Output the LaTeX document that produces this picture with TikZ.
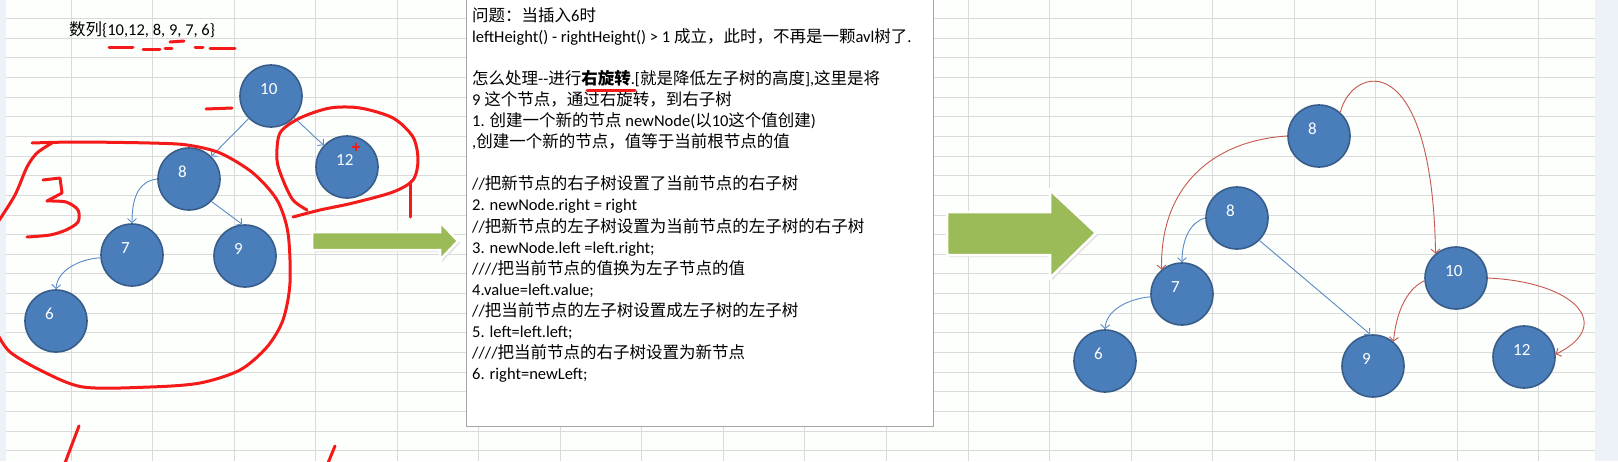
\documentclass[tikz,border=0pt]{standalone}
\usepackage{fontspec}
\setmainfont{Carlito}
\newfontfamily\cjkfont{Noto Sans CJK SC}
\newcommand{\zh}[1]{{\cjkfont#1}}
\usetikzlibrary{arrows.meta}
\definecolor{nodeblue}{HTML}{4A7EBB}
\definecolor{nodeedge}{HTML}{385D8A}
\definecolor{linkblue}{HTML}{5A8AC6}
\definecolor{linkred}{HTML}{C8574F}
\definecolor{arrowgreen}{HTML}{9BBB59}
\definecolor{pen}{HTML}{F51A1A}
\definecolor{gridgray}{HTML}{DADADA}
\definecolor{sidebar}{HTML}{EDF1F8}
\definecolor{boxgray}{HTML}{A6A6A6}
\tikzset{
  treenode/.style={circle,fill=nodeblue,draw=nodeedge,line width=1.6pt,minimum size=62pt,inner sep=0pt},
  nodelabel/.style={anchor=west,text=white,inner sep=0pt,font=\fontsize{17}{17}\selectfont},
  bluelink/.style={draw=linkblue,line width=0.9pt,-{Straight Barb[length=4pt,width=9pt]}},
  redlink/.style={draw=linkred,line width=0.9pt,-{Straight Barb[length=4pt,width=9pt]}},
  gridline/.style={gridgray,line width=1pt},
  fatarrow/.style={fill=arrowgreen,draw=white,line width=2.5pt,line join=miter},
  penline/.style={pen,line width=3pt,line cap=round,line join=round},
  notetext/.style={anchor=north west,align=left,inner sep=0pt,font=\fontsize{16.5}{21.1}\selectfont}
}
\newcommand{\treenode}[4]{\node[treenode] (#1) at (#2,#3) {};\node[nodelabel] (#1t) at ([shift={(-11,-7)}]#1.center) {#4};}

\begin{document}
\begin{tikzpicture}[x=1pt,y=-1pt]
\useasboundingbox (0,0) rectangle (1618,461);
\fill[white!99!green] (0,0) rectangle (1618,461);
\foreach \i in {0,...,22}
  \draw[gridline] (6,{18.5+19.65*\i}) -- (1595,{18.5+19.65*\i});
\foreach \i in {0,...,18}
  \draw[gridline] ({71+81.55*\i},0) -- ({71+81.55*\i},461);
\fill[sidebar] (0,0) rectangle (6,461);
\fill[sidebar] (1595,0) rectangle (1618,461);

\node[anchor=west,inner sep=0pt,font=\fontsize{16.5}{18}\selectfont] (seq) at (69,30) {\zh{数列}\{10,12, 8, 9, 7, 6\}};

\treenode{l10}{271}{96}{10}
\treenode{l12}{347}{167}{12}
\treenode{l8}{189}{179}{8}
\treenode{l7}{132}{255}{7}
\treenode{l9}{245}{256}{9}
\treenode{l6}{56}{321}{6}
\draw[bluelink] (l10) -- (l8);
\draw[bluelink] (l10) -- (l12);
\draw[bluelink] (l8.180) .. controls (140,181) and (132,195) .. (l7.90);
\draw[bluelink] (l8.-45) -- (l9.95);
\draw[bluelink] (l7.185) .. controls (80,259) and (57,270) .. (l6.90);

\fill[black!12] (314,234)--(442,234)--(442,224)--(460,243)--(442,262)--(442,252)--(314,252)--cycle;
\draw[fatarrow] (312,232)--(440,232)--(440,222)--(458,241)--(440,260)--(440,250)--(312,250)--cycle;

\draw[boxgray,fill=white,line width=1pt] (466,-2) rectangle (933,426);
\node[notetext] (note) at (472,7) {\zh{问题：当插入}6\zh{时}\\
leftHeight() - rightHeight() > 1 \zh{成立，此时，不再是一颗}avl\zh{树了}.\\[21.1pt]
\zh{怎么处理}-{}-\zh{进行}\textbf{\zh{右旋转}}.[\zh{就是降低左子树的高度}],\zh{这里是将}\\
9 \zh{这个节点，通过右旋转，到右子树}\\
1. \zh{创建一个新的节点} newNode(\zh{以}10\zh{这个值创建})\\
,\zh{创建一个新的节点，值等于当前根节点的值}\\[21.1pt]
//\zh{把新节点的右子树设置了当前节点的右子树}\\
2. newNode.right = right\\
//\zh{把新节点的左子树设置为当前节点的左子树的右子树}\\
3. newNode.left =left.right;\\
////\zh{把当前节点的值换为左子节点的值}\\
4.value=left.value;\\
//\zh{把当前节点的左子树设置成左子树的左子树}\\
5. left=left.left;\\
////\zh{把当前节点的右子树设置为新节点}\\
6. right=newLeft;};

\fill[black!12] (949,214)--(1052,214)--(1052,192)--(1098,235)--(1052,280)--(1052,257)--(949,257)--cycle;
\draw[fatarrow] (947,212)--(1050,212)--(1050,190)--(1096,233)--(1050,278)--(1050,255)--(947,255)--cycle;

\treenode{r8a}{1319}{136}{8}
\treenode{r8b}{1237}{218}{8}
\treenode{r7}{1182}{294}{7}
\treenode{r6}{1105}{361}{6}
\treenode{r9}{1373}{366}{9}
\treenode{r10}{1456}{278}{10}
\treenode{r12}{1524}{357}{12}
\draw[bluelink] (r8b.180) .. controls (1190,222) and (1182,240) .. (r7.90);
\draw[bluelink] (r8b.-45) -- (r9.95);
\draw[bluelink] (r7.185) .. controls (1128,299) and (1106,310) .. (r6.90);
\draw[redlink] (r8a.180) .. controls (1220,140) and (1160,180) .. (r7.130);
\draw[redlink] (r8a.48) .. controls (1352,65) and (1432,45) .. (r10.130);
\draw[redlink] (r10.185) .. controls (1405,290) and (1396,315) .. (r9.50);
\draw[redlink] (r10.east) .. controls (1575,282) and (1615,325) .. (r12.5);

\draw[penline] (109,47)--(133,47);
\draw[penline] (143,49)--(160,49);
\draw[penline] (165,48)--(172,48);
\draw[penline] (170,42)--(184,41);
\draw[penline] (195,47)--(203,47);
\draw[penline] (210,48)--(235,48);
\draw[penline] (206,109)--(232,108);
\draw[penline] (587,90)--(635,90);
\draw[penline] plot[smooth] coordinates {(32,143) (77,142) (150,143) (187,145) (220,153) (253,173) (277,200) (288,233) (290,283) (283,320) (267,347) (240,370) (200,383) (150,387) (83,387) (40,370) (10,352) (-2,335)};
\draw[penline] plot[smooth] coordinates {(-2,222) (15,195) (27,167) (37,153) (52,143)};
\draw[penline] (43,180)--(60,178)--(62,193)--(47,201);
\draw[penline] plot[smooth] coordinates {(47,201) (66,202) (78,210) (78,222) (66,230) (50,235) (27,237)};
\draw[penline] plot[smooth] coordinates {(307,210) (293,200) (283,180) (277,160) (280,133) (300,118) (330,108) (360,108) (393,118) (413,137) (418,160) (413,180) (393,192) (353,203) (320,210) (293,217)};
\draw[penline] (410,182)--(410,217);
\draw[pen,line width=1.5pt] (352,147)--(360,147) (356,143)--(356,151);
\draw[penline] (79,426)--(65,463);
\draw[penline] (335,446)--(328,463);
\end{tikzpicture}
\end{document}
